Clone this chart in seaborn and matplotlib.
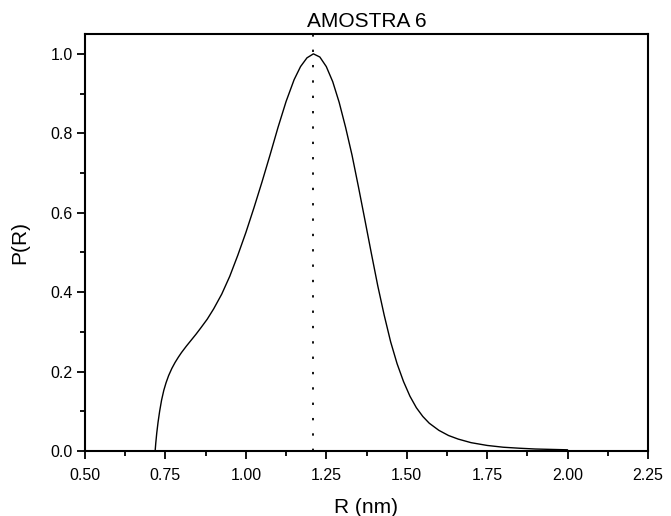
import numpy as np
import pandas as pd
import matplotlib
matplotlib.use("Agg")
import matplotlib.pyplot as plt
from matplotlib.ticker import MultipleLocator, FormatStrFormatter
import seaborn as sns

title = "AMOSTRA 6"
x_label = "R (nm)"
y_label = "P(R)"

r_nm = [0.718, 0.720, 0.723, 0.727, 0.732, 0.738, 0.745, 0.752, 0.76, 0.77,
        0.78, 0.79, 0.80, 0.815, 0.83, 0.845, 0.86, 0.88, 0.90, 0.925,
        0.95, 0.975, 1.00, 1.025, 1.05, 1.075, 1.10, 1.125, 1.15, 1.17,
        1.19, 1.21, 1.23, 1.25, 1.27, 1.29, 1.31, 1.33, 1.35, 1.37,
        1.39, 1.41, 1.43, 1.45, 1.47, 1.49, 1.51, 1.53, 1.55, 1.57,
        1.60, 1.63, 1.66, 1.70, 1.75, 1.80, 1.85, 1.90, 1.95, 2.00]
p_r = [0.0, 0.02, 0.045, 0.072, 0.10, 0.128, 0.153, 0.172, 0.19, 0.208,
       0.223, 0.236, 0.248, 0.264, 0.279, 0.294, 0.31, 0.332, 0.358, 0.395,
       0.44, 0.493, 0.55, 0.612, 0.677, 0.745, 0.815, 0.88, 0.935, 0.968,
       0.99, 1.0, 0.992, 0.968, 0.93, 0.878, 0.815, 0.745, 0.665, 0.582,
       0.498, 0.416, 0.342, 0.275, 0.22, 0.175, 0.138, 0.109, 0.087, 0.070,
       0.052, 0.039, 0.030, 0.021, 0.014, 0.0095, 0.007, 0.005, 0.004, 0.003]

x_ticks = [0.50, 0.75, 1.00, 1.25, 1.50, 1.75, 2.00, 2.25]
y_ticks = [0.0, 0.2, 0.4, 0.6, 0.8, 1.0]

df = pd.DataFrame({"R": r_nm, "P": p_r})
peak_r = df.loc[df["P"].idxmax(), "R"]

sns.set_style("ticks")
plt.rcParams["font.family"] = ["Liberation Sans", "DejaVu Sans"]
plt.rcParams["text.color"] = "black"
plt.rcParams["axes.labelcolor"] = "black"

fig = plt.figure(figsize=(6.71, 5.16), dpi=100)
ax = fig.add_axes([85 / 671, 1 - 451 / 516, (648 - 85) / 671, (451 - 34) / 516])

sns.lineplot(data=df, x="R", y="P", ax=ax, color="black", linewidth=1.0)
ax.axvline(peak_r, color="black", linewidth=1.3, linestyle=(0, (1.3, 7.2)))

ax.set_xlim(0.5, 2.25)
ax.set_ylim(0, 1.05)
ax.set_xticks(x_ticks)
ax.set_yticks(y_ticks)
ax.xaxis.set_major_formatter(FormatStrFormatter("%.2f"))
ax.yaxis.set_major_formatter(FormatStrFormatter("%.1f"))
ax.xaxis.set_minor_locator(MultipleLocator(0.125))
ax.yaxis.set_minor_locator(MultipleLocator(0.1))
ax.tick_params(which="major", direction="out", length=6, width=1.3, labelsize=11.5,
               colors="black", labelcolor="black")
ax.tick_params(which="minor", direction="out", length=3.5, width=1.3, colors="black")
ax.tick_params(axis="x", which="major", pad=6)
ax.tick_params(axis="y", which="major", pad=3)
ax.tick_params(top=False, right=False)

for s in ax.spines.values():
    s.set_visible(True)
    s.set_linewidth(1.5)
    s.set_color("black")

ax.set_xlabel(x_label, fontsize=15, labelpad=11, color="black")
ax.set_ylabel(y_label, fontsize=15, labelpad=15, color="black")
ax.set_title(title, fontsize=15, pad=5, color="black")

fig.savefig("out.png", dpi=100, facecolor="white")
